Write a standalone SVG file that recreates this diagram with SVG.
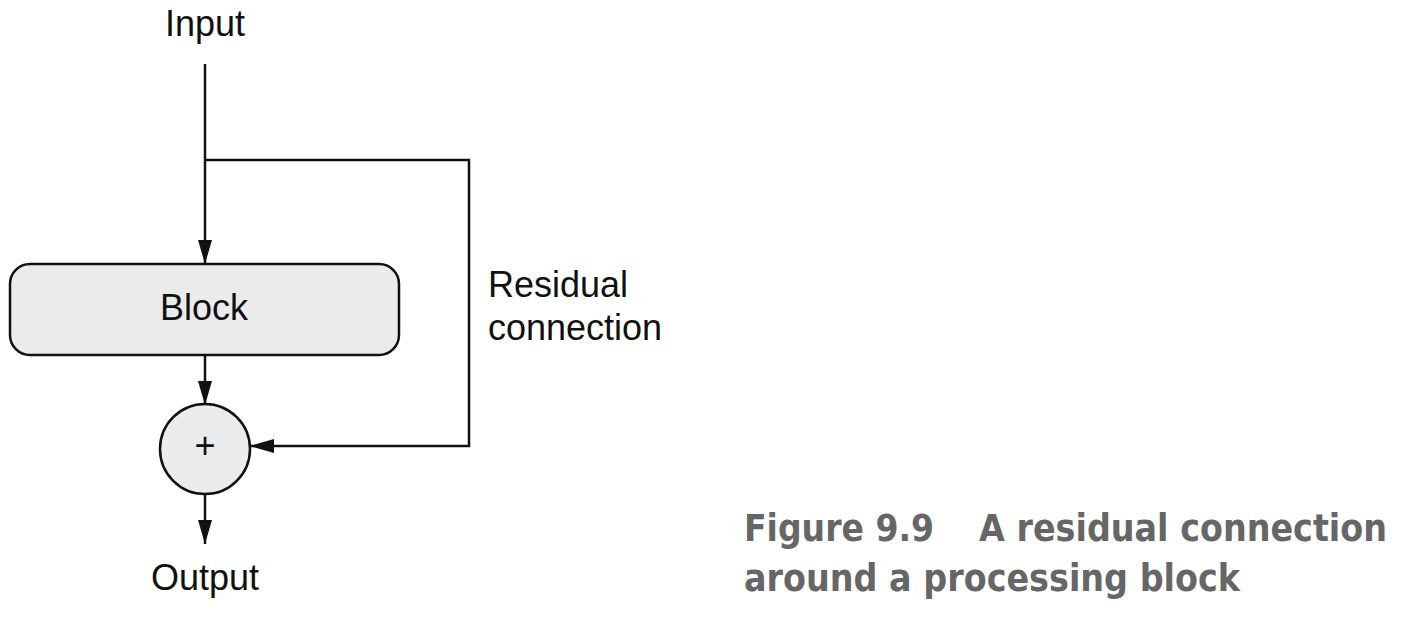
<svg xmlns="http://www.w3.org/2000/svg" width="1418" height="628" viewBox="0 0 1418 628">
<style>
.lbl{font-family:"Liberation Sans",Arial,sans-serif;font-size:36px;fill:#111}
.ln{fill:none;stroke:#111;stroke-width:2.5}
.cap{font-family:"DejaVu Sans Condensed","DejaVu Sans",sans-serif;font-weight:bold;font-size:37px;fill:#666}
</style>
<defs>
<marker id="ah" markerWidth="24" markerHeight="14" refX="24" refY="7" orient="auto" markerUnits="userSpaceOnUse">
<path d="M0,0 L24,7 L0,14 Z" fill="#111"/>
</marker>
</defs>
<rect width="1418" height="628" fill="#fff"/>
<g id="connectors">
<line class="ln" x1="205" y1="64" x2="205" y2="264" marker-end="url(#ah)"/>
<polyline class="ln" points="205,160 469,160 469,446 250,446" marker-end="url(#ah)"/>
<line class="ln" x1="205" y1="355" x2="205" y2="405" marker-end="url(#ah)"/>
<line class="ln" x1="205" y1="494" x2="205" y2="544" marker-end="url(#ah)"/>
</g>
<g id="input"><text class="lbl" x="205" y="36" text-anchor="middle">Input</text></g>
<g id="block">
<rect x="10" y="264" width="389" height="91" rx="20" fill="#ebebeb" stroke="#111" stroke-width="2.5"/>
<text class="lbl" x="204" y="320" text-anchor="middle">Block</text>
</g>
<g id="add">
<circle cx="205" cy="449" r="45" fill="#ebebeb" stroke="#111" stroke-width="2.5"/>
<text class="lbl" x="205" y="458" text-anchor="middle" font-size="28">+</text>
</g>
<g id="residual-label">
<text class="lbl" x="488" y="297">Residual</text>
<text class="lbl" x="488" y="340">connection</text>
</g>
<g id="output"><text class="lbl" x="205" y="590" text-anchor="middle">Output</text></g>
<g id="caption">
<text class="cap" x="744" y="541" textLength="190" lengthAdjust="spacingAndGlyphs">Figure 9.9</text>
<text class="cap" x="979" y="541" textLength="408" lengthAdjust="spacingAndGlyphs">A residual connection</text>
<text class="cap" x="744" y="591" textLength="496" lengthAdjust="spacingAndGlyphs">around a processing block</text>
</g>
</svg>
